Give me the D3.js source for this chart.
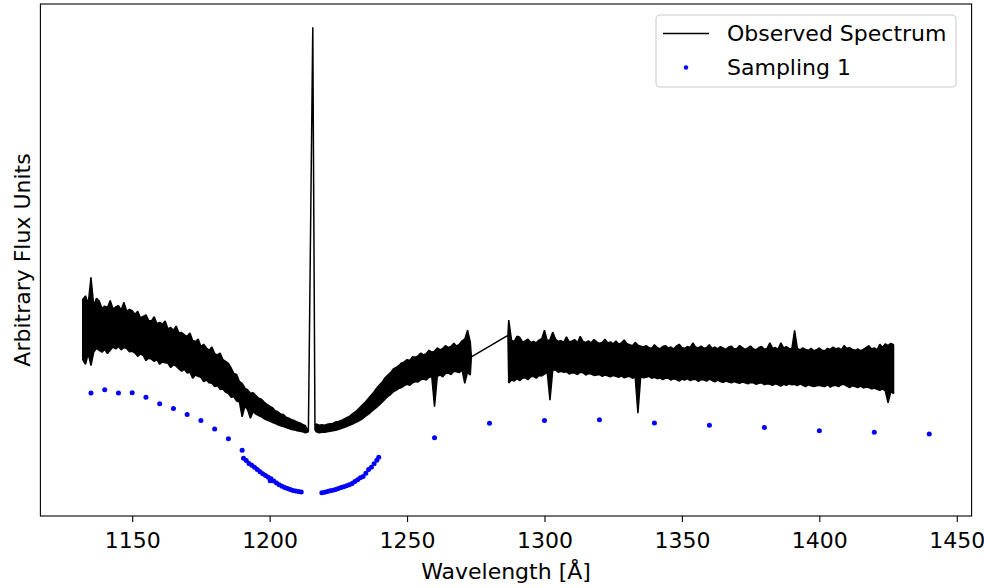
<!DOCTYPE html>
<html>
<head>
<meta charset="utf-8">
<script src="https://cdn.jsdelivr.net/npm/d3@7"></script>
<style>
  body { margin: 0; background: #fff; }
  svg text { font-family: "DejaVu Sans", sans-serif; }
</style>
</head>
<body>
<svg id="chart" width="984" height="588"></svg>
<script>
// observed spectrum, sampled every 1 A, read off as lower / upper edge of the noise band
// blue wing: 1132 .. 1213 A
const blueStart = 1132;
const blueLow = [
  28.6, 27.6, 29.9, 27.3, 30.2, 31.0, 30.6, 30.2, 30.8, 29.9, 30.6, 31.3, 30.9, 31.4, 30.7, 31.2,
  31.0, 30.3, 30.4, 30.0, 29.3, 29.8, 29.5, 28.4, 28.9, 28.7, 28.2, 28.6, 27.6, 28.1, 27.9, 27.8,
  26.9, 27.5, 27.2, 26.6, 26.1, 26.5, 25.7, 25.9, 24.6, 25.3, 25.0, 24.8, 23.9, 24.2, 23.6, 23.5,
  22.8, 23.0, 22.2, 22.3, 21.6, 21.3, 20.5, 20.6, 19.7, 19.5, 16.3, 18.6, 17.8, 16.0, 17.4, 16.9,
  16.6, 16.3, 15.9, 15.6, 15.4, 15.1, 14.9, 14.6, 14.4, 14.2, 14.0, 13.8, 13.6, 13.5, 13.3, 13.2,
  13.1, 12.9
];
const blueHigh = [
  41.5, 42.3, 40.6, 46.3, 40.2, 41.8, 41.2, 39.6, 40.1, 39.8, 41.3, 39.5, 39.9, 40.2, 39.3, 40.9,
  39.0, 39.4, 39.1, 38.3, 39.0, 37.6, 37.9, 38.2, 37.0, 36.9, 37.8, 36.3, 36.6, 36.2, 36.9, 35.2,
  35.5, 34.9, 35.8, 34.3, 34.4, 33.9, 33.6, 34.3, 32.7, 32.5, 33.0, 31.4, 31.9, 31.1, 30.6, 31.3,
  29.9, 29.6, 30.0, 28.6, 28.2, 27.8, 26.8, 25.6, 25.4, 23.9, 23.5, 22.5, 22.1, 21.4, 21.5, 20.9,
  20.3, 20.1, 19.5, 19.0, 18.6, 18.3, 17.6, 17.4, 16.9, 16.8, 16.2, 16.0, 15.7, 15.5, 15.2, 15.0,
  14.7, 14.4
];

// Lyman alpha emission spike
const lyaWave = [1214.1, 1215.7, 1216.5];
const lyaFlux = [13.1, 100, 13.5];

// red of Lyman alpha: 1217 .. 1273 A
const midStart = 1217;
const midLow = [
  13.1, 12.9, 13.0, 13.0, 13.1, 13.2, 13.3, 13.4, 13.6, 13.8, 14.0, 14.2, 14.5, 14.7, 15.0, 15.3,
  15.6, 16.0, 16.5, 16.9, 17.4, 17.9, 18.4, 18.9, 19.5, 20.1, 20.7, 21.1, 21.7, 22.0, 22.4, 22.6,
  23.0, 23.3, 23.1, 23.6, 23.9, 23.8, 24.3, 24.4, 24.2, 24.8, 24.9, 18.5, 25.0, 25.3, 24.9, 25.6,
  25.7, 25.4, 26.1, 26.0, 25.8, 26.4, 23.5, 25.9, 25.3
];
const midHigh = [
  14.8, 14.5, 14.6, 14.5, 14.7, 14.8, 14.9, 15.2, 15.3, 15.5, 15.8, 16.1, 16.4, 16.9, 17.3, 17.8,
  18.4, 19.0, 19.6, 20.3, 21.0, 21.7, 22.5, 23.2, 23.8, 24.7, 25.3, 25.8, 26.6, 26.9, 27.3, 27.9,
  28.1, 28.6, 28.4, 29.2, 29.1, 29.4, 30.0, 29.6, 29.9, 30.6, 30.2, 30.4, 31.1, 30.7, 31.0, 31.6,
  31.2, 31.4, 32.1, 31.5, 31.9, 32.6, 33.0, 34.9, 32.4
];

// detector gap, drawn as a straight line
const gapWave = [1273.4, 1286.7];
const gapFlux = [29.2, 33.8];

// red segment: 1287 .. 1427 A
const redStart = 1287;
const redLow = [
  23.6, 24.2, 24.0, 24.5, 24.1, 24.6, 24.7, 24.3, 24.9, 25.0, 24.6, 25.2, 25.1, 25.5, 25.9, 19.9,
  26.3, 26.4, 25.9, 26.1, 25.9, 26.0, 25.5, 25.8, 25.7, 25.4, 25.9, 25.8, 25.3, 25.6, 25.5, 25.2,
  25.3, 25.4, 25.0, 25.3, 25.1, 24.9, 25.2, 25.0, 24.8, 25.1, 24.7, 24.9, 25.0, 24.6, 24.9, 17.1,
  24.9, 24.7, 24.8, 25.0, 24.6, 24.8, 24.5, 24.7, 24.3, 24.6, 24.6, 24.2, 24.5, 24.3, 24.0, 24.4,
  24.2, 24.5, 24.1, 24.3, 24.4, 23.9, 24.3, 24.2, 24.0, 24.4, 24.1, 23.8, 24.2, 23.9, 23.7, 24.0,
  23.8, 23.6, 23.9, 23.7, 23.5, 23.8, 23.6, 23.4, 23.7, 23.6, 23.3, 23.5, 23.6, 23.2, 23.4, 23.3,
  23.1, 23.4, 23.2, 22.9, 23.3, 23.1, 23.4, 23.2, 23.3, 23.0, 23.4, 23.1, 22.8, 23.2, 23.0, 22.8,
  23.0, 23.1, 22.9, 22.8, 23.2, 22.7, 23.0, 23.1, 22.8, 23.2, 23.3, 22.9, 22.6, 23.0, 22.8, 22.6,
  22.9, 22.5, 22.7, 22.6, 22.3, 22.5, 22.2, 22.0, 22.3, 21.9, 19.3, 21.7, 21.3
];
const redHigh = [
  37.1, 32.8, 32.5, 33.6, 33.4, 32.4, 32.6, 33.0, 32.3, 32.5, 32.2, 32.8, 33.1, 34.9, 32.6, 32.9,
  34.5, 33.0, 32.5, 32.7, 32.3, 33.5, 32.4, 32.6, 32.9, 32.2, 33.6, 32.5, 32.3, 32.6, 32.2, 32.9,
  32.4, 32.1, 32.3, 33.0, 32.2, 32.4, 32.0, 32.6, 31.9, 32.2, 32.8, 32.0, 31.8, 31.6, 32.3, 31.7,
  31.5, 31.3, 31.6, 31.2, 31.0, 31.8, 31.2, 30.9, 31.4, 31.6, 31.1, 31.3, 30.9, 31.5, 31.9, 31.2,
  31.0, 31.4, 31.2, 32.2, 31.3, 31.1, 31.5, 31.0, 31.2, 31.8, 31.0, 31.3, 30.9, 31.4, 31.1, 30.8,
  31.3, 31.5, 30.9, 31.0, 31.6, 31.2, 30.8, 31.1, 31.5, 30.9, 30.7, 31.2, 31.4, 30.8, 31.0, 32.2,
  31.0, 31.2, 30.8, 32.2, 31.1, 31.4, 31.0, 30.9, 34.9, 31.0, 30.7, 31.1, 30.8, 30.6, 31.0, 30.5,
  30.7, 31.1, 30.6, 30.5, 31.0, 30.8, 31.3, 30.9, 31.1, 30.7, 31.6, 31.0, 31.2, 30.8, 30.6, 30.9,
  30.5, 30.8, 31.2, 31.6, 30.9, 31.1, 30.7, 31.9, 31.2, 32.0, 31.6, 32.1, 31.8
];

// Sampling 1 points
const sampleWave = [
  1135, 1140, 1145, 1150, 1155, 1160, 1165, 1170, 1175, 1180, 1185, 1190,
  1190.5, 1191.5, 1192.5, 1193.5, 1194.5, 1195.5, 1196.5, 1197.5, 1198.5, 1199.5, 1200.2, 1200.5,
  1201.5, 1202.5, 1203.5, 1204.5, 1205.5, 1206.5, 1207.5, 1208.5, 1209.5, 1210.5, 1211.5,
  1219, 1220, 1221, 1222, 1223, 1224, 1225, 1226, 1227, 1228, 1229, 1230, 1231, 1232, 1233,
  1234, 1235, 1236, 1237, 1238, 1239, 1239.7,
  1260, 1280, 1300, 1320, 1340, 1360, 1380, 1400, 1420, 1440
];
const sampleFlux = [
  21.4, 22.1, 21.4, 21.5, 20.5, 19.1, 18.1, 16.8, 15.5, 13.7, 11.6, 9.1,
  7.4, 6.9, 6.3, 5.9, 5.5, 5.0, 4.5, 4.1, 3.7, 3.3, 2.6, 3.0,
  2.5, 2.1, 1.7, 1.4, 1.1, 0.9, 0.7, 0.5, 0.35, 0.25, 0.15,
  0.0, 0.1, 0.25, 0.4, 0.55, 0.7, 0.9, 1.1, 1.3, 1.5, 1.7, 2.0, 2.4, 2.8, 3.2,
  3.5, 4.2, 5.0, 5.5, 6.2, 7.0, 7.6,
  11.8, 14.9, 15.5, 15.7, 15.0, 14.5, 14.0, 13.3, 13.0, 12.6
];

const xTicks = [1150, 1200, 1250, 1300, 1350, 1400, 1450];

const svg = d3.select("#chart"),
      mLeft = 40.4, mRight = 971.6, mTop = 4, mBottom = 516,
      fontSize = 22;

// one list of {w, lo, hi} for the whole spectrum
function band(start, low, high) {
  return low.map((v, i) => ({ w: start + i, lo: v, hi: high[i] }));
}
function thin(wave, flux) {
  return wave.map((w, i) => ({ w: w, lo: flux[i], hi: flux[i] }));
}
const spec = [].concat(
  band(blueStart, blueLow, blueHigh),
  thin(lyaWave, lyaFlux),
  band(midStart, midLow, midHigh),
  thin(gapWave, gapFlux),
  band(redStart, redLow, redHigh)
);

// matplotlib style 5% margins around the data
function padded(lo, hi) {
  let pad = (hi - lo) * 0.05;
  return [lo - pad, hi + pad];
}
const allWave = spec.map(d => d.w).concat(sampleWave),
      allFlux = spec.map(d => d.hi).concat(spec.map(d => d.lo), sampleFlux);

const x = d3.scaleLinear()
    .domain(padded(d3.min(allWave), d3.max(allWave)))
    .range([mLeft, mRight]);
const y = d3.scaleLinear()
    .domain(padded(d3.min(allFlux), d3.max(allFlux)))
    .range([mBottom, mTop]);

const plot = svg.append("g");
plot.append("clipPath").attr("id", "clip")
  .append("rect").attr("x", mLeft).attr("y", mTop)
  .attr("width", mRight - mLeft).attr("height", mBottom - mTop);

const area = d3.area()
    .x(d => x(d.w))
    .y0(d => y(d.lo))
    .y1(d => y(d.hi));

plot.append("path")
    .datum(spec)
    .attr("clip-path", "url(#clip)")
    .attr("d", area)
    .attr("fill", "#000")
    .attr("stroke", "#000")
    .attr("stroke-width", 1.5)
    .attr("stroke-linejoin", "bevel");

plot.append("g")
    .attr("clip-path", "url(#clip)")
  .selectAll("circle")
  .data(sampleWave)
  .join("circle")
    .attr("cx", d => x(d))
    .attr("cy", (d, i) => y(sampleFlux[i]))
    .attr("r", 2.5)
    .attr("fill", "#0000ff");

// frame
svg.append("rect")
    .attr("x", mLeft).attr("y", mTop)
    .attr("width", mRight - mLeft).attr("height", mBottom - mTop)
    .attr("fill", "none")
    .attr("stroke", "#000")
    .attr("stroke-width", 1.1);

// x axis
const xAxis = svg.append("g")
    .attr("transform", `translate(0,${mBottom})`)
    .call(d3.axisBottom(x).tickValues(xTicks).tickFormat(d3.format("d"))
      .tickSize(6).tickPadding(10).tickSizeOuter(0));
xAxis.select(".domain").remove();
xAxis.selectAll(".tick line").attr("stroke", "#000").attr("stroke-width", 1.1);
xAxis.selectAll(".tick text")
    .attr("font-family", "DejaVu Sans")
    .attr("font-size", fontSize)
    .attr("fill", "#000");

svg.append("text")
    .attr("x", (mLeft + mRight) / 2)
    .attr("y", 579)
    .attr("text-anchor", "middle")
    .attr("font-size", fontSize)
    .text("Wavelength [Å]");

svg.append("text")
    .attr("transform", `translate(29.5,${(mTop + mBottom) / 2}) rotate(-90)`)
    .attr("text-anchor", "middle")
    .attr("font-size", fontSize)
    .text("Arbitrary Flux Units");

// legend
const legend = svg.append("g");
legend.append("rect")
    .attr("x", 656).attr("y", 15)
    .attr("width", 300).attr("height", 72)
    .attr("rx", 4)
    .attr("fill", "#fff").attr("fill-opacity", 0.8)
    .attr("stroke", "#cccccc").attr("stroke-width", 1.1);
legend.append("line")
    .attr("x1", 663).attr("x2", 709)
    .attr("y1", 33.5).attr("y2", 33.5)
    .attr("stroke", "#000").attr("stroke-width", 1.5);
legend.append("circle")
    .attr("cx", 686).attr("cy", 67.5).attr("r", 2.2)
    .attr("fill", "#0000ff");
legend.append("text")
    .attr("x", 727).attr("y", 33.5).attr("dy", "0.35em")
    .attr("font-size", fontSize)
    .text("Observed Spectrum");
legend.append("text")
    .attr("x", 727).attr("y", 67.5).attr("dy", "0.35em")
    .attr("font-size", fontSize)
    .text("Sampling 1");
</script>
</body>
</html>
